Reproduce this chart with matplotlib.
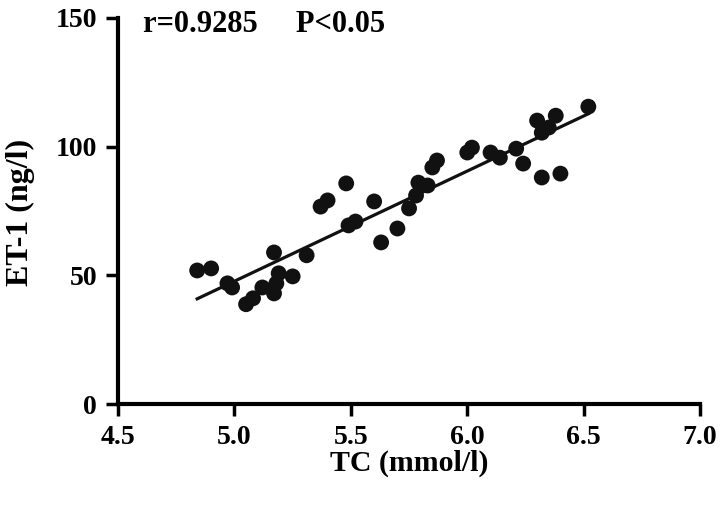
import numpy as np
import matplotlib.pyplot as plt

#data
tc=[4.84,4.90,4.97,4.99,5.05,5.08,5.17,5.12,5.17,5.19,5.18,5.25,5.31,5.37,5.40,5.48,5.49,5.52,5.60,5.63,
    5.70,5.75,5.78,5.79,5.83,5.85,5.87,6.00,6.02,6.10,6.14,6.21,6.24,6.32,6.40,6.30,6.38,6.32,6.35,6.52]
et1=[51.9,52.7,46.9,45.3,38.8,41.1,58.9,45.3,43.0,50.8,46.9,49.6,57.8,76.7,79.1,85.7,69.4,70.9,78.7,62.8,
     68.2,76.0,81.0,86.0,84.9,91.9,94.6,97.7,99.6,97.7,95.7,99.2,93.4,88.0,89.5,110.1,112.0,105.4,107.4,115.5]
xticks=[4.5,5.0,5.5,6.0,6.5,7.0]
yticks=[0,50,100,150]
stat_text='r=0.9285     P<0.05'

#linear fit
tc=np.array(tc);et1=np.array(et1)
k,b=np.polyfit(tc,et1,1)
xl=np.array([tc.min(),tc.max()])

plt.rcParams['font.family']='Liberation Serif'
plt.rcParams['font.weight']='bold'
fig=plt.figure(figsize=(7.24,5.09),dpi=100)
ax=fig.add_axes([0.163,0.206,0.804,0.759])

ax.scatter(tc,et1,s=130,c='#111111',edgecolors='none',zorder=3)
ax.plot(xl,k*xl+b,color='#111111',lw=2.3)

ax.set_xlim(4.5,7.0);ax.set_ylim(0,150)
ax.set_xticks(xticks);ax.set_yticks(yticks)
ax.set_xticklabels(['%.1f'%t for t in xticks])
ax.spines['top'].set_visible(False)
ax.spines['right'].set_visible(False)
ax.spines['left'].set_linewidth(3)
ax.spines['bottom'].set_linewidth(3)
ax.tick_params(width=2.5,length=8.5,labelsize=20,pad=6.5)
for lab in ax.get_xticklabels()+ax.get_yticklabels():
    lab.set_fontweight('bold')

ax.set_xlabel('TC (mmol/l)',fontsize=21.5,fontweight='bold',va='center')
ax.set_ylabel('ET-1 (ng/l)',fontsize=23,fontweight='bold',va='center')
ax.xaxis.set_label_coords(0.5,-0.153)
ax.yaxis.set_label_coords(-0.167,0.497)
ax.text(0.043,0.982,stat_text,transform=ax.transAxes,fontsize=22,fontweight='bold',va='center',ha='left')

fig.savefig('out.png',dpi=100)
